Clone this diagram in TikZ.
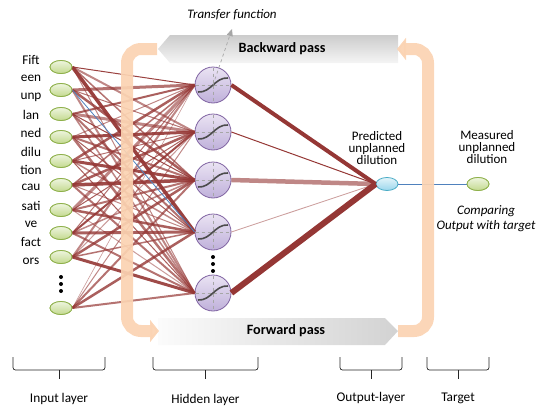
\documentclass[tikz,border=0pt]{standalone}
\usepackage{fontspec}
\setmainfont{Carlito}
\usetikzlibrary{shapes.geometric,arrows.meta}
\definecolor{conn}{HTML}{953735}
\definecolor{inlight}{HTML}{EEF5DE}
\definecolor{indark}{HTML}{C3D98F}
\definecolor{inborder}{HTML}{8EB04A}
\definecolor{hidlight}{HTML}{EAE3F3}
\definecolor{hiddark}{HTML}{BFB0DA}
\definecolor{hidborder}{HTML}{8064A2}
\definecolor{outlight}{HTML}{E3F4FA}
\definecolor{outdark}{HTML}{9AD6EC}
\definecolor{outborder}{HTML}{4BACC6}
\definecolor{bluel}{HTML}{4F81BD}
\definecolor{peach}{HTML}{FBD3B2}
\tikzset{
  innode/.style={ellipse, minimum width=22pt, minimum height=13pt, inner sep=0pt, draw=inborder, line width=0.8pt, top color=inlight, bottom color=indark},
  hidnode/.style={circle, minimum size=36pt, inner sep=0pt, draw=hidborder, line width=0.8pt, top color=hidlight, bottom color=hiddark},
  outnode/.style={ellipse, minimum width=22pt, minimum height=13pt, inner sep=0pt, draw=outborder, line width=0.8pt, top color=outlight, bottom color=outdark},
  wlabel/.style={font=\fontsize{13.3}{15}\selectfont, inner sep=0pt},
  banner/.style={font=\fontsize{14.2}{16}\selectfont\bfseries, inner sep=0pt},
  bracket/.style={draw=black!85, line width=0.7pt, rounded corners=2.5pt},
  bar/.style={draw=peach, line width=12pt, rounded corners=14pt, opacity=0.92},
  dotmark/.style={circle, fill=black, inner sep=0pt, minimum size=4pt},
}
\begin{document}
\begin{tikzpicture}[x=1pt,y=-1pt]
\useasboundingbox (0,0) rectangle (544,407);
% input nodes
\foreach \n/\y in {1/67,2/90,3/114,4/137,5/161,6/185,7/210,8/233,9/257,10/308}
  \node[innode] (in\n) at (61,\y) {};
% hidden nodes
\foreach \n/\y in {1/85,2/132,3/180,4/232,5/293}
  \node[hidnode] (h\n) at (213,\y) {};
\node[outnode] (out) at (387,184) {};
\node[innode] (tgt) at (478,184) {};
% connections input -> hidden
\begin{scope}
\foreach \i/\j/\w/\o in {
 1/1/1/0.95, 1/2/2/0.6, 1/3/1.5/0.7, 1/4/3.5/0.95, 1/5/1/0.6,
 2/1/3/0.7, 2/2/1/0.7, 2/3/2.5/0.8, 2/5/2/0.6,
 3/1/2/0.8, 3/2/3/0.6, 3/3/1/0.9, 3/4/2/0.7, 3/5/1.5/0.6,
 4/1/1/0.6, 4/2/3/0.9, 4/3/2/0.7, 4/4/1/0.8, 4/5/2.5/0.7,
 5/1/2.5/0.8, 5/2/1/0.7, 5/3/3/0.9, 5/4/1.5/0.6, 5/5/1/0.8,
 6/1/1.5/0.7, 6/2/2.5/0.8, 6/3/3.5/0.9, 6/4/1/0.6, 6/5/2/0.7,
 7/1/3/0.6, 7/2/1/0.8, 7/3/2/0.7, 7/4/2.5/0.8, 7/5/1/0.5,
 8/1/1/0.7, 8/2/2/0.9, 8/3/1.5/0.6, 8/4/3/0.8, 8/5/2/0.7,
 9/1/2/0.6, 9/2/1/0.5, 9/3/2.5/0.8, 9/4/1.5/0.7, 9/5/3/0.9,
 10/1/0.6/0.5, 10/2/1/0.6, 10/3/2/0.7, 10/4/2.5/0.8, 10/5/2/0.7}
  \draw[conn, line width=\w pt, opacity=\o] (in\i.east) -- (h\j.west);
\draw[bluel, line width=0.8pt] (in2.east) -- (h4.west);
\end{scope}
% hidden -> output
\foreach \j/\w/\o in {1/4/1, 2/1/1, 3/4.5/0.6, 4/0.8/0.5, 5/6/1}
  \draw[conn, line width=\w pt, opacity=\o] (h\j.east) -- (out.west);
\draw[bluel, line width=0.8pt] (out.east) -- (tgt.west);
% banners
\shade[top color=gray!40, bottom color=gray!8]
  (398,35) -- (170,35) -- (158,49) -- (170,63) -- (398,63) -- cycle;
\shade[left color=gray!3, right color=gray!35]
  (158,318) -- (385,318) -- (398,331) -- (385,345) -- (158,345) -- cycle;
\node[banner] (bw) at (282,49) {Backward pass};
\node[banner] (fw) at (286,331) {Forward pass};
% orange bars
\coordinate (l0) at (157,49);
\coordinate (l1) at (127,49);
\coordinate (l2) at (127,331);
\coordinate (l3) at (159,331);
\coordinate (r0) at (398,331);
\coordinate (r1) at (428,331);
\coordinate (r2) at (428,49);
\coordinate (r3) at (397,49);
\draw[bar, -{Triangle[width=22pt,length=9pt]}] (l0) -- (l1) -- (l2) -- (l3);
\draw[bar, -{Triangle[width=22pt,length=9pt]}] (r0) -- (r1) -- (r2) -- (r3);
% redraw nodes on top
\foreach \n/\y in {1/67,2/90,3/114,4/137,5/161,6/185,7/210,8/233,9/257,10/308}
  \node[innode] at (61,\y) {};
\node[innode] at (478,184) {};
% hidden neuron decoration
\foreach \n in {1,...,5}{
  \draw[gray!70, dashed, line width=0.4pt] ([xshift=1pt]h\n.west) -- ([xshift=-1pt]h\n.east);
  \draw[gray!70, dashed, line width=0.4pt] ([yshift=-1pt]h\n.north) -- ([yshift=1pt]h\n.south);
  \draw[black!70, line width=1.6pt] ([shift={(-15,7)}]h\n.center) .. controls ([shift={(-2,8)}]h\n.center) and ([shift={(2,-8)}]h\n.center) .. ([shift={(15,-7)}]h\n.center);
}
% dots
\foreach \y [count=\k] in {277,284,291} \node[dotmark] (id\k) at (61,\y) {};
\foreach \y [count=\k] in {257,264,271} \node[dotmark] (hd\k) at (213,\y) {};
% transfer function
\coordinate (tf) at (232,29);
\node[wlabel, font=\fontsize{13}{15}\selectfont\itshape] (tft) at (232,15) {Transfer function};
\draw[gray!70, dashed, line width=0.7pt, -{Triangle[width=6pt,length=7pt]}] (h1.center) -- (tf);
% input labels
\foreach \t/\y in {Fift/60,een/78,unp/97,lan/115,ned/133,dilu/152,tion/170,cau/187,sati/206,ve/224,fact/242,ors/261}
  \node[wlabel] at (31,\y) {\t};
% output labels
\node[wlabel, align=center, font=\fontsize{13}{11.8}\selectfont] (pl) at (377,148) {Predicted\\unplanned\\dilution};
\node[wlabel, align=center, font=\fontsize{13}{11.8}\selectfont] (ml) at (487,147) {Measured\\unplanned\\dilution};
\node[wlabel, align=center, font=\fontsize{13}{15}\selectfont\itshape] (cmp) at (486,219) {Comparing\\Output with target};
% brackets
\foreach \a/\b/\nm/\t/\ly in {13/105/il/Input layer/399, 153/258/hl/Hidden layer/400, 340/402/ol/Output-layer/398, 427/489/tl/Target/398}{
  \draw[bracket] (\a,357) -- (\a,370) -- (\b,370) -- (\b,357);
  \draw[bracket] ({(\a+\b)/2},370) -- ({(\a+\b)/2},379);
  \node[wlabel] (\nm) at ({(\a+\b)/2},\ly) {\t};
}
\end{tikzpicture}
\end{document}
